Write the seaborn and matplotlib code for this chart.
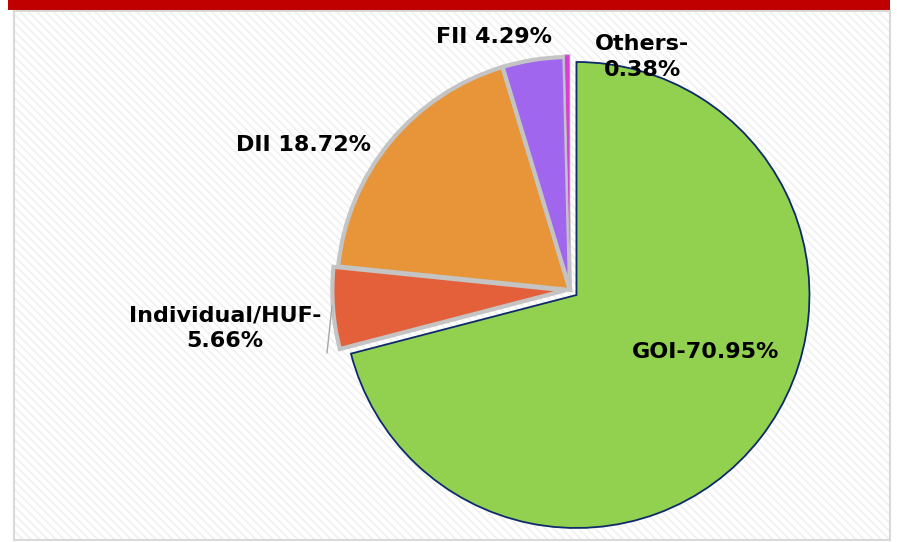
import matplotlib
matplotlib.use("Agg")
import matplotlib.pyplot as plt
import matplotlib.patches as mpatches
import seaborn as sns
import numpy as np

# shareholding pattern data
categories = ["GOI", "Individual/HUF", "DII", "FII", "Others"]
shares = [70.95, 5.66, 18.72, 4.29, 0.38]
labels = ["GOI-70.95%", "Individual/HUF-\n5.66%", "DII 18.72%", "FII 4.29%", "Others-\n0.38%"]
colors = ["#92D050", "#E3603B", "#E8953A", "#A066EE", "#D63FD6"]

sns.set_theme(style="white")
plt.rcParams['font.family'] = ['DejaVu Sans']
plt.rcParams['hatch.linewidth'] = 1.2

W, H = 897, 542
fig = plt.figure(figsize=(W / 100, H / 100), dpi=100)
fig.patch.set_facecolor("white")

# pie centre and radius in pixels
cx, cy, R = 570, 290, 233

def px(x, y):
    return (x - cx) / R, (cy - y) / R

# background frame + red band
bg = fig.add_axes([0, 0, 1, 1], zorder=0)
bg.set_xlim(0, W)
bg.set_ylim(H, 0)
bg.axis("off")
bg.add_patch(mpatches.Rectangle((14, 11), 876, 529, facecolor="white",
                                edgecolor="#F0F0F0", hatch="\\\\\\\\", linewidth=0))
bg.add_patch(mpatches.Rectangle((14, 11), 876, 529, facecolor="none",
                                edgecolor="#D9D9D9", linewidth=1.5))
bg.add_patch(mpatches.Rectangle((8, 0), 882, 10, facecolor="#C00000", edgecolor="none"))

ax = fig.add_axes([0, 0, 1, 1], zorder=1)
ax.patch.set_alpha(0)
explode = [0.035, 0.02, 0, 0, 0.01]
wedges, _ = ax.pie(shares, colors=colors, startangle=90, counterclock=False,
                   explode=explode, radius=1,
                   wedgeprops=dict(edgecolor="#C4C4C4", linewidth=3))
wedges[0].set_edgecolor("#0E2A6B")
wedges[0].set_linewidth(1.3)
wedges[0].set_zorder(3)
wedges[4].set_linewidth(0.6)
wedges[4].set_zorder(2)
ax.set_xlim(-cx / R, (W - cx) / R)
ax.set_ylim(-(H - cy) / R, cy / R)
ax.axis("off")

# label positions (pixels)
label_pos = [(706, 352), (225, 328), (303, 145), (494, 37), (642, 57)]
for lab, (x, y) in zip(labels, label_pos):
    ax.text(*px(x, y), lab, ha="center", va="center", fontsize=16,
            fontweight="bold", color="black", linespacing=1.35, zorder=5)

# leader line for Individual/HUF
x0, y0 = px(332, 306)
x1, y1 = px(327, 353)
ax.plot([x0, x1], [y0, y1], color="#A6A6A6", linewidth=1)

fig.savefig("out.png", dpi=100)
